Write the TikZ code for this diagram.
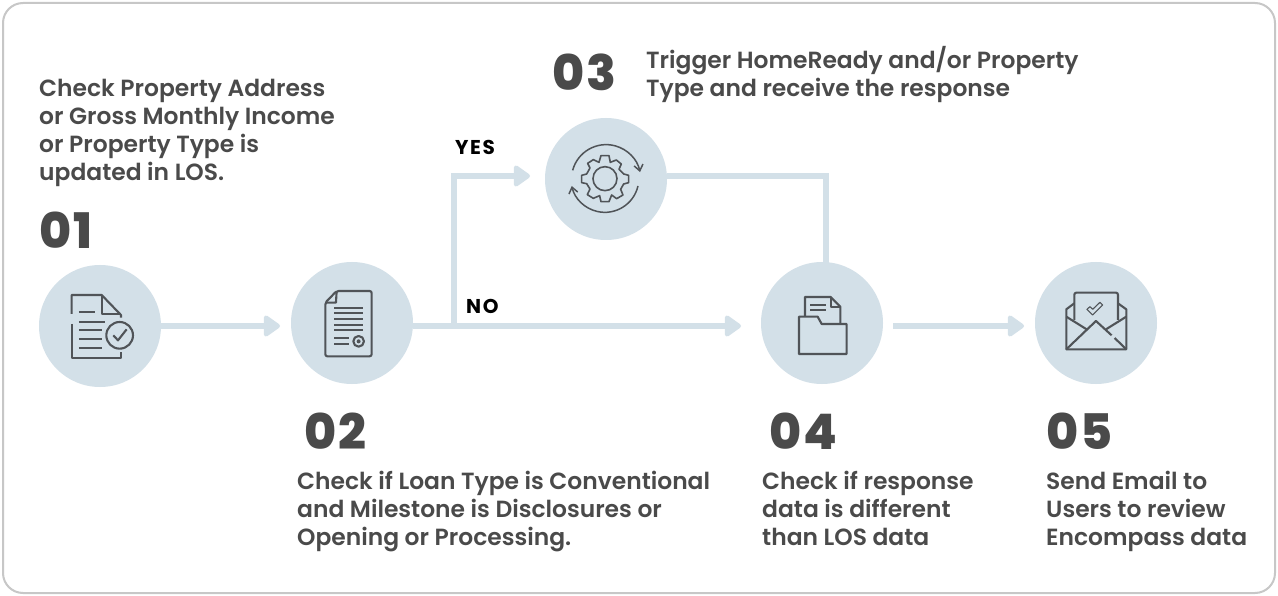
\documentclass[tikz,border=0pt]{standalone}
\usepackage{fontspec}
\setmainfont{Poppins SemiBold}
\newfontfamily\numfont[LetterSpace=5]{Poppins ExtraBold}
\newfontfamily\lblfont[LetterSpace=8]{Poppins Bold}
\usetikzlibrary{arrows.meta,calc}
\definecolor{bub}{HTML}{D3E0E8}
\definecolor{ink}{HTML}{4A4A4A}
\definecolor{icn}{HTML}{505458}
\tikzset{
  bubble/.style={circle,fill=bub,minimum size=122pt,inner sep=0pt,draw=none},
  flow/.style={draw=bub,line width=6pt},
  flowa/.style={flow,-{Triangle[length=18pt,width=24pt,round]}},
  desc/.style={anchor=north west,align=left,inner sep=0pt,text=ink,font=\fontsize{23.4}{28}\selectfont},
  num/.style={anchor=base west,inner sep=0pt,text=ink,font=\numfont\fontsize{49}{49}\selectfont},
  lbl/.style={anchor=base west,inner sep=0pt,text=black,font=\lblfont\fontsize{20}{20}\selectfont},
  ico/.style={draw=icn,line width=2.1pt,line join=round},
  icot/.style={draw=icn,line width=1.1pt,line join=round},
}
\begin{document}
\begin{tikzpicture}[x=1pt,y=-1pt]
\useasboundingbox (0,0) rectangle (1278,596);
\draw[draw=black!22,line width=2pt,rounded corners=20pt,fill=white] (3,3) rectangle (1275,593);
\node[bubble] (c1) at (100,326) {};
\node[bubble] (c2) at (352,323) {};
\node[bubble] (c3) at (606,179) {};
\node[bubble] (c4) at (822,323) {};
\node[bubble] (c5) at (1096,323) {};
\coordinate (e12) at (280,326);
\coordinate (s24) at (413,326);
\coordinate (e24) at (741,326);
\coordinate (j) at (454,326);
\coordinate (e3) at (530,176);
\coordinate (s34) at (667,176);
\coordinate (t34) at (826,263);
\coordinate (s45) at (893,326);
\coordinate (e45) at (1024,326);
\draw[flowa] (c1.east |- e12) -- (e12);
\draw[flowa] (s24) -- (e24);
\draw[flowa] (j) -- (j |- e3) -- (e3);
\draw[flow] (s34) -- (t34 |- s34) -- (t34);
\draw[flowa] (s45) -- (e45);
% icon 1
\begin{scope}[shift={(20,250)},x=0.3333pt,y=-0.3333pt]
\draw[ico] (155,192) -- (155,135) -- (245,135) -- (303,195) -- (303,203);
\draw[ico] (245,135) -- (245,192) -- (303,192);
\draw[ico] (155,222) -- (155,324) -- (303,324) -- (303,305);
\draw[ico] (177,185) -- (226,185);
\draw[ico] (177,215) -- (254,215);
\draw[ico] (177,241) -- (245,241);
\draw[ico] (177,267) -- (245,267);
\draw[ico] (177,294) -- (245,294);
\draw[ico] (299,256) circle (40);
\draw[ico] (280,256) -- (294,271) -- (320,238);
\end{scope}
% icon 2
\begin{scope}[shift={(20,250)},x=0.3333pt,y=-0.3333pt]
\draw[ico,rounded corners=2pt] (950,123) -- (1055,123) -- (1055,319) -- (916,319) -- (916,158) -- cycle;
\draw[ico] (950,123) -- (948,158) -- (916,158);
\foreach \yy in {173,190,207,224,241} \draw[ico] (943,\yy) -- (1030,\yy);
\draw[ico] (943,265) -- (988,265);
\draw[ico] (943,283) -- (988,283);
\draw[ico] (1016,274) circle (16);
\fill[icn] (1016,274) circle (6);
\end{scope}
% icon 3
\begin{scope}[shift={(430,100)},x=0.3333pt,y=-0.3333pt]
\def\gx{525}\def\gy{236}
\draw[ico,line width=1.6pt] (513,167)--(537,167)--(541,187)--(559,180)--(574,192)--(567,208)--(581,222)--(596,226)--(596,248)--(581,252)--(572,268)--(579,285)--(560,296)--(545,285)--(537,305)--(513,305)--(509,287)--(490,295)--(472,284)--(480,267)--(470,251)--(455,248)--(455,226)--(470,222)--(480,204)--(473,190)--(490,179)--(507,187)--cycle;
\draw[ico,line width=1.6pt] (\gx,\gy) circle (36);
\draw[ico,line width=1.5pt,-{Straight Barb[length=6pt,width=9pt]}] (428,211) arc[start angle=-165,end angle=-12,radius=104];
\draw[ico,line width=1.5pt,-{Straight Barb[length=6pt,width=9pt]}] (624,258) arc[start angle=13,end angle=167,radius=102];
\end{scope}
% icon 4
\begin{scope}[shift={(740,250)},x=0.3333pt,y=-0.3333pt]
\draw[ico] (195,198) -- (195,141) -- (272,141) -- (301,170) -- (301,220);
\draw[ico] (272,141) -- (272,170) -- (301,170);
\draw[ico] (210,165) -- (258,165);
\draw[ico] (210,181) -- (258,181);
\draw[ico] (177,312) -- (177,200) -- (233,200) -- (245,222) -- (320,222) -- (320,312) -- cycle;
\end{scope}
% icon 5
\begin{scope}[shift={(740,250)},x=0.3333pt,y=-0.3333pt]
\draw[ico,rounded corners=2pt] (1003,210) -- (1003,128) -- (1134,128) -- (1134,210);
\draw[ico] (1003,160) -- (979,178) -- (979,298) -- (1159,298) -- (1159,178) -- (1134,160);
\draw[ico] (979,200) -- (1040,238);
\draw[ico] (1159,200) -- (1098,238);
\draw[ico] (979,298) -- (1068,213) -- (1115,256);
\draw[ico] (1124,264) -- (1159,298);
\draw[icot] (1041,178) -- (1058,195) -- (1088,165) -- (1080,157) -- (1058,178) -- (1050,170) -- cycle;
\end{scope}
% numbers
\node[num] (n1) at (39,249) {01};
\node[num] (n2) at (304,449) {02};
\node[num] (n3) at (552,91) {03};
\node[num] (n4) at (769,449) {04};
\node[num] (n5) at (1046,449) {05};
% text
\node[desc] (t1) at (39,79) {Check Property Address\\or Gross Monthly Income\\or Property Type is\\updated in LOS.};
\node[desc] (t2) at (297,471) {Check if Loan Type is Conventional\\and Milestone is Disclosures or\\Opening or Processing.};
\node[desc] (t3) at (646,46) {Trigger HomeReady and/or Property\\Type and receive the response};
\node[desc] (t4) at (762,471) {Check if response\\data is different\\than LOS data};
\node[desc] (t5) at (1046,471) {Send Email to\\Users to review\\Encompass data};
\node[lbl] (yes) at (455,155) {YES};
\node[lbl] (no) at (466,313) {NO};
\end{tikzpicture}
\end{document}
